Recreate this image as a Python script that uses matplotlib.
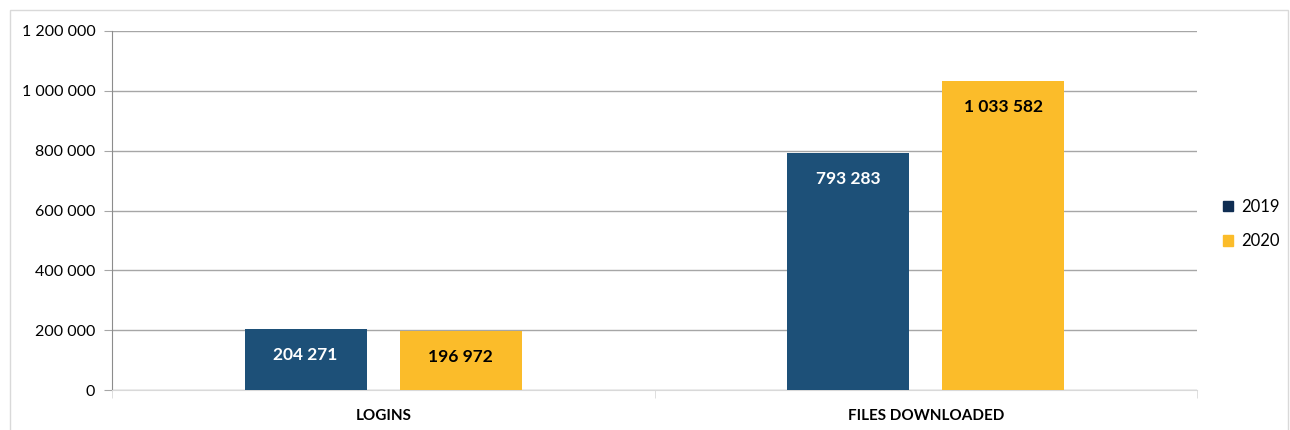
import numpy as np
import matplotlib
matplotlib.use('Agg')
import matplotlib.pyplot as plt
from matplotlib.patches import Rectangle, Patch
from matplotlib.ticker import FuncFormatter

plt.rcParams['font.family'] = ['Lato', 'DejaVu Sans']

categories = ['LOGINS', 'FILES DOWNLOADED']
series_names = ['2019', '2020']
values_2019 = [204271, 793283]
values_2020 = [196972, 1033582]

colors = ['#1d5078', '#fbbc2a']
legend_colors = ['#0f2d52', '#fbbc2a']
label_colors = ['white', 'black']

def fmt_space(v, pos=None):
  return '{:,}'.format(int(v)).replace(',', ' ')

fig = plt.figure(figsize=(12.9, 4.3), dpi=100)
ax = fig.add_axes([112/1290, 1 - 390/430, (1197-112)/1290, (390-31)/430])

# outer chart frame
fig.patches.append(Rectangle((10/1290, -0.1), 1278/1290, 1.1 - 10/430, transform=fig.transFigure,
                             fill=False, edgecolor='#d9d9d9', linewidth=1.0))

x = np.arange(len(categories))
width = 0.225
offsets = [-0.143, 0.143]
for i, vals in enumerate([values_2019, values_2020]):
  bars = ax.bar(x + offsets[i], vals, width=width, color=colors[i], zorder=3)
  for b, v in zip(bars, vals):
    ax.annotate(fmt_space(v), (b.get_x() + b.get_width()/2, v), xytext=(0, -19), textcoords='offset points',
                ha='center', va='center', fontsize=12.5, fontweight='bold', color=label_colors[i], zorder=4)

ax.set_xlim(-0.5, 1.5)
ax.set_ylim(0, 1200000)
ax.set_yticks(np.arange(0, 1200001, 200000))
ax.yaxis.set_major_formatter(FuncFormatter(fmt_space))
ax.grid(axis='y', color='#a6a6a6', linewidth=1.0, zorder=0)

ax.set_xticks(x)
ax.set_xticklabels(categories, fontsize=11, fontweight='bold')
ax.tick_params(axis='x', length=0, pad=14)
ax.set_xticks([-0.5, 0.5, 1.5], minor=True)
ax.tick_params(axis='x', which='minor', length=6, color='#d9d9d9')
ax.tick_params(axis='y', labelsize=11.5, length=6, color='#a6a6a6', pad=6)

for s in ['top', 'right']:
  ax.spines[s].set_visible(False)
ax.spines['left'].set_color('#8c8c8c')
ax.spines['bottom'].set_color('#d9d9d9')

handles = [Patch(color=c, label=n) for c, n in zip(legend_colors, series_names)]
ax.legend(handles=handles, loc='center left', bbox_to_anchor=(1.01, 0.462), frameon=False, fontsize=12,
          handlelength=0.6, handleheight=0.6, handletextpad=0.5, labelspacing=1.1)

fig.savefig('out.png', dpi=100)
